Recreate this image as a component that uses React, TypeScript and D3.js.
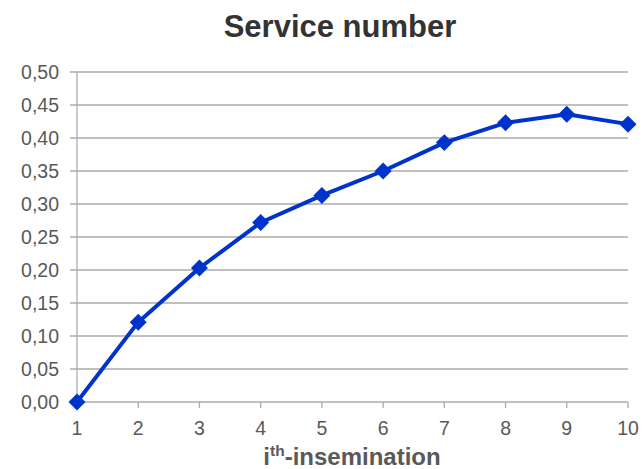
import React from "react";
import * as d3 from "d3";

const categories = [1, 2, 3, 4, 5, 6, 7, 8, 9, 10];
const values = [0.0, 0.121, 0.203, 0.272, 0.313, 0.35, 0.393, 0.423, 0.436, 0.421];
const yTicks = [0, 0.05, 0.1, 0.15, 0.2, 0.25, 0.3, 0.35, 0.4, 0.45, 0.5];
const title = "Service number";

export default function App() {
  const W = 642, H = 469;
  const x = d3.scaleLinear().domain([1, 10]).range([77, 628]);
  const y = d3.scaleLinear().domain([0, 0.5]).range([402, 72]);
  const line = d3.line<number>().x((_, i) => x(categories[i])).y((d) => y(d));
  const fmt = (v: number) => v.toFixed(2).replace(".", ",");
  const grid = "#ABABAB";
  const txt = "#595959";
  const blue = "#0033CC";
  return (
    <svg width={W} height={H} style={{ position: "absolute", left: 0, top: 0 }} fontFamily="Liberation Sans, Arial, sans-serif">
      <rect width={W} height={H} fill="#fff" />
      <text x={340} y={37} textAnchor="middle" fontSize={31} fontWeight="bold" fill="#333">{title}</text>
      {yTicks.map((t) => (
        <g key={t}>
          <line x1={70} x2={628} y1={y(t)} y2={y(t)} stroke={grid} strokeWidth={1.3} />
          <text x={59} y={y(t)} dy="0.35em" textAnchor="end" fontSize={19.5} fill={txt}>{fmt(t)}</text>
        </g>
      ))}
      <line x1={77} x2={77} y1={72} y2={402} stroke={grid} strokeWidth={1.3} />
      {categories.map((c) => (
        <g key={c}>
          <line x1={x(c)} x2={x(c)} y1={402} y2={408} stroke={grid} strokeWidth={1.3} />
          <text x={x(c)} y={435} textAnchor="middle" fontSize={19.5} fill={txt}>{c}</text>
        </g>
      ))}
      <path d={line(values) || ""} fill="none" stroke={blue} strokeWidth={4} strokeLinejoin="round" />
      {values.map((v, i) => (
        <rect key={i} x={-6} y={-6} width={12} height={12} fill={blue}
          transform={`translate(${x(categories[i])},${y(v)}) rotate(45)`} />
      ))}
      <text x={352} y={465} textAnchor="middle" fontSize={24} fontWeight="bold" fill={txt}>
        i<tspan fontSize={15.5} dy={-9}>th</tspan><tspan dy={9}>-insemination</tspan>
      </text>
    </svg>
  );
}
